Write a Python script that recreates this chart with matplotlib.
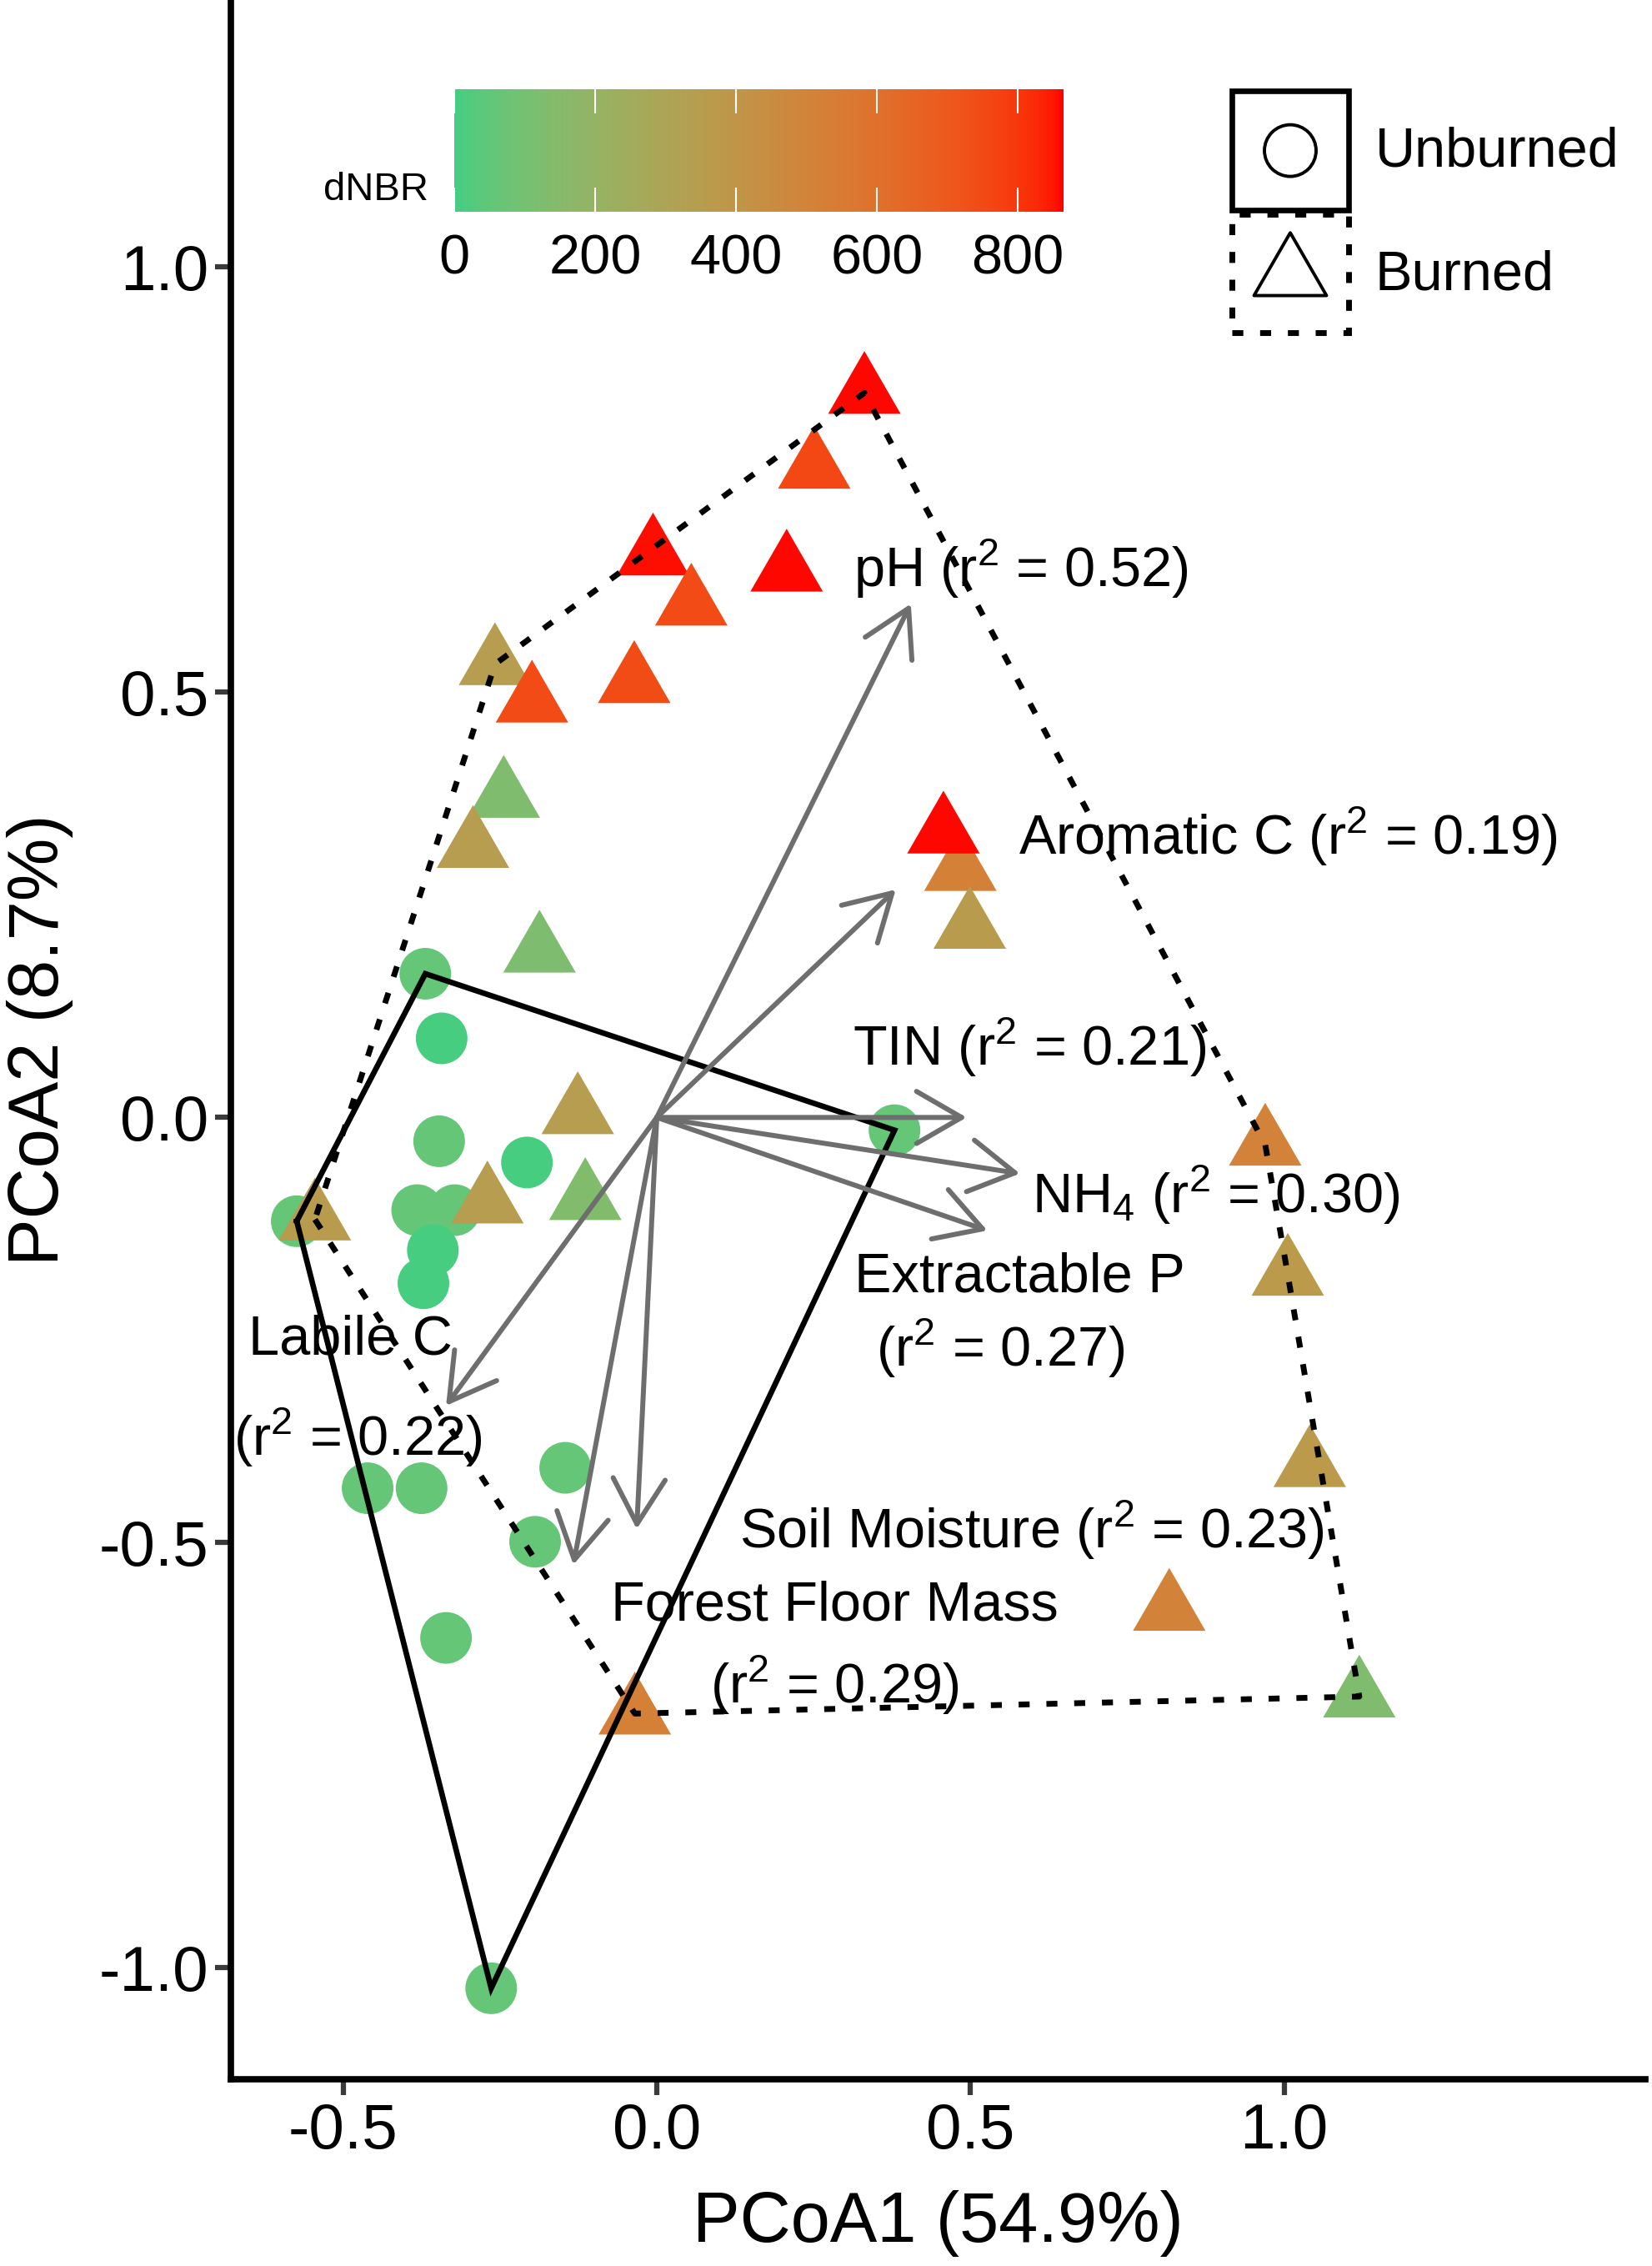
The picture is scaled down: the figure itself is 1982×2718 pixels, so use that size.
import numpy as np
import matplotlib
matplotlib.use("Agg")
import matplotlib.pyplot as plt
from matplotlib.path import Path
from matplotlib.colors import ListedColormap, Normalize
from matplotlib.patches import Rectangle
import matplotlib.cm as cm

plt.rcParams['font.family'] = ['Liberation Sans', 'DejaVu Sans']
plt.rcParams['mathtext.fontset'] = 'custom'
plt.rcParams['mathtext.rm'] = 'Liberation Sans'
plt.rcParams['mathtext.it'] = 'Liberation Sans'
plt.rcParams['mathtext.bf'] = 'Liberation Sans:bold'
plt.rcParams['axes.unicode_minus'] = False

# ---------------- data ----------------
# Unburned plots (circles)
unburned_x = [-0.369, -0.343, -0.347, -0.207, -0.574, -0.382, -0.322, -0.357,
              -0.372, 0.379, -0.461, -0.375, -0.146, -0.194, -0.336, -0.264]
unburned_y = [0.169, 0.093, -0.028, -0.053, -0.122, -0.109, -0.109, -0.156,
              -0.195, -0.015, -0.436, -0.436, -0.412, -0.499, -0.612, -1.024]
unburned_dnbr = [60, 5, 60, 5, 60, 60, 60, 5, 5, 60, 60, 60, 60, 60, 60, 60]

# Burned plots (triangles)
burned_x = [0.331, 0.251, -0.006, 0.207, 0.055, -0.258, -0.199, -0.036,
            -0.244, -0.293, -0.187, 0.484, 0.457, 0.499, -0.126, -0.270,
            -0.114, -0.545, 0.970, 1.006, 1.041, 0.817, 1.120, -0.035]
burned_y = [0.852, 0.764, 0.662, 0.643, 0.603, 0.533, 0.489, 0.512,
            0.377, 0.318, 0.195, 0.291, 0.335, 0.223, 0.005, -0.100,
            -0.096, -0.120, -0.032, -0.185, -0.410, -0.579, -0.681, -0.701]
burned_dnbr = [860, 760, 855, 860, 745, 350, 745, 740,
               130, 350, 125, 520, 860, 360, 345, 350,
               135, 360, 510, 370, 370, 510, 130, 520]

# Environmental vectors
vec_x = [0.405, 0.381, 0.494, 0.579, 0.527, -0.032, -0.133, -0.336]
vec_y = [0.604, 0.268, 0.000, -0.066, -0.133, -0.484, -0.526, -0.339]

# Vector labels
lab_text = [r'pH (r$^{2}$ = 0.52)', r'Aromatic C (r$^{2}$ = 0.19)',
            r'TIN (r$^{2}$ = 0.21)', r'NH$_{4}$ (r$^{2}$ = 0.30)',
            'Extractable P', r'(r$^{2}$ = 0.27)',
            r'Soil Moisture (r$^{2}$ = 0.23)', 'Forest Floor Mass',
            r'(r$^{2}$ = 0.29)', 'Labile C', r'(r$^{2}$ = 0.22)']
lab_x = [0.581, 1.006, 0.594, 0.891, 0.579, 0.548, 0.598, 0.284, 0.283, -0.488, -0.477]
lab_y = [0.645, 0.330, 0.082, -0.091, -0.188, -0.272, -0.485, -0.575, -0.668, -0.262, -0.376]

cbar_ticks = [0, 200, 400, 600, 800]
dnbr_max = 865
x_ticks = [-0.5, 0.0, 0.5, 1.0]
y_ticks = [-1.0, -0.5, 0.0, 0.5, 1.0]
legend_labels = ['Unburned', 'Burned']


# ---------------- colour scale (Lab interpolation, like ggplot) ----------------
def hex2rgb(h):
    h = h.lstrip('#')
    return np.array([int(h[i:i + 2], 16) for i in (0, 2, 4)]) / 255.0


M = np.array([[0.4124564, 0.3575761, 0.1804375],
              [0.2126729, 0.7151522, 0.0721750],
              [0.0193339, 0.1191920, 0.9503041]])
WHITE = np.array([0.95047, 1.0, 1.08883])


def rgb2lab(c):
    lin = np.where(c <= 0.04045, c / 12.92, ((c + 0.055) / 1.055) ** 2.4)
    xyz = M @ lin / WHITE
    f = np.where(xyz > 0.008856, np.cbrt(xyz), 7.787 * xyz + 16 / 116)
    return np.array([116 * f[1] - 16, 500 * (f[0] - f[1]), 200 * (f[1] - f[2])])


def lab2rgb(lab):
    L, a, b = lab
    fy = (L + 16) / 116
    fx = fy + a / 500
    fz = fy - b / 200
    f = np.array([fx, fy, fz])
    xyz = np.where(f ** 3 > 0.008856, f ** 3, (f - 16 / 116) / 7.787) * WHITE
    lin = np.linalg.solve(M, xyz)
    lin = np.clip(lin, 0, 1)
    c = np.where(lin <= 0.0031308, 12.92 * lin, 1.055 * lin ** (1 / 2.4) - 0.055)
    return np.clip(c, 0, 1)


lab_lo = rgb2lab(hex2rgb('#43CD80'))
lab_hi = rgb2lab(hex2rgb('#FF0000'))
cols = [lab2rgb(lab_lo + (lab_hi - lab_lo) * t) for t in np.linspace(0, 1, 256)]
cmap = ListedColormap(cols)
norm = Normalize(vmin=0, vmax=dnbr_max)

# ---------------- figure ----------------
W, H = 1983, 2718
fig = plt.figure(figsize=(W / 100, H / 100), dpi=100)
ax = fig.add_axes([277 / W, 1 - 2494 / H, (1974 - 277) / W, 2494 / H])
ax.set_xlim(-0.679, 1.576)
ax.set_ylim(-1.131, 1.314)
for s in ['top', 'right']:
    ax.spines[s].set_visible(False)
for s in ['left', 'bottom']:
    ax.spines[s].set_linewidth(5.5)
ax.set_xticks(x_ticks)
ax.set_yticks(y_ticks)
ax.set_xticklabels([f'{v:.1f}' for v in x_ticks])
ax.set_yticklabels([f'{v:.1f}' for v in y_ticks])
ax.tick_params(axis='both', length=14, width=4.5, labelsize=55, color='#3a3a3a')
ax.tick_params(axis='x', pad=6)
ax.tick_params(axis='y', pad=5)
ax.set_xlabel('PCoA1 (54.9%)', fontsize=61)
ax.set_ylabel('PCoA2 (8.7%)', fontsize=61)
ax.xaxis.set_label_coords(0.5, -0.0694)
ax.xaxis.label.set_va('center')
ax.yaxis.set_label_coords(-0.1347, 0.5)
ax.yaxis.label.set_va('center')

# triangle marker (R pch 17 proportions, centred on centroid)
tri = Path([(0, 1.555), (1.347, -0.778), (-1.347, -0.778), (0, 1.555)],
           [Path.MOVETO, Path.LINETO, Path.LINETO, Path.CLOSEPOLY])

ax.scatter(unburned_x, unburned_y, c=unburned_dnbr, cmap=cmap, norm=norm,
           s=1990, marker='o', linewidths=0, zorder=2)
ax.scatter(burned_x, burned_y, c=burned_dnbr, cmap=cmap, norm=norm,
           s=5230, marker=tri, linewidths=0, zorder=2)


def convex_hull(xs, ys):
    pts = sorted(set(zip(xs, ys)))

    def cross(o, a, b):
        return (a[0] - o[0]) * (b[1] - o[1]) - (a[1] - o[1]) * (b[0] - o[0])
    lower, upper = [], []
    for p in pts:
        while len(lower) >= 2 and cross(lower[-2], lower[-1], p) <= 0:
            lower.pop()
        lower.append(p)
    for p in reversed(pts):
        while len(upper) >= 2 and cross(upper[-2], upper[-1], p) <= 0:
            upper.pop()
        upper.append(p)
    hull = lower[:-1] + upper[:-1]
    hull.append(hull[0])
    return np.array(hull)


hu = convex_hull(unburned_x, unburned_y)
hb = convex_hull(burned_x, burned_y)
ax.plot(hu[:, 0], hu[:, 1], color='black', lw=4.8, solid_joinstyle='miter', zorder=3)
ax.plot(hb[:, 0], hb[:, 1], color='black', lw=5.0, dashes=(1.9, 2.9),
        dash_capstyle='butt', zorder=3)

grey = '#6E6E6E'
for vx, vy in zip(vec_x, vec_y):
    ax.annotate('', xy=(vx, vy), xytext=(0, 0),
                arrowprops=dict(arrowstyle='->,head_length=3.9,head_width=2.25',
                                lw=4.3, color=grey, shrinkA=0, shrinkB=0,
                                mutation_scale=10), zorder=4)

for t, x, y in zip(lab_text, lab_x, lab_y):
    ax.text(x, y, t, fontsize=48, ha='center', va='center', zorder=5)

# ---------------- colour bar ----------------
cax = fig.add_axes([545 / W, 1 - 254 / H, 731 / W, 147 / H])
sm = cm.ScalarMappable(norm=norm, cmap=cmap)
cb = fig.colorbar(sm, cax=cax, orientation='horizontal')
cb.outline.set_visible(False)
cb.set_ticks(cbar_ticks)
cax.tick_params(axis='x', direction='in', color='white', length=21, width=1.5,
                top=True, bottom=True, labelsize=48, pad=19, labelcolor='black')
cax.text(-0.042, 0.18, 'dNBR', transform=cax.transAxes, ha='right', va='center',
         fontsize=34)

# ---------------- shape legend ----------------
lax = fig.add_axes([1478 / W, 1 - 399 / H, 140 / W, 290 / H])
lax.set_xlim(0, 1)
lax.set_ylim(0, 1)
lax.axis('off')
lax.add_patch(Rectangle((0, 0.507), 1, 0.493, facecolor='white', edgecolor='black',
                        lw=4.8, clip_on=False))
lax.add_patch(Rectangle((0, 0.0), 1, 0.49, facecolor='white', edgecolor='black',
                        lw=5.0, linestyle=(0, (1.9, 2.9)), clip_on=False))
lax.scatter([0.5], [0.753], s=1990, marker='o', facecolors='none',
            edgecolors='black', linewidths=2.8, clip_on=False)
lax.scatter([0.5], [0.24], s=5230, marker=tri, facecolors='none',
            edgecolors='black', linewidths=2.8, clip_on=False)
fig.text(1650 / W, 1 - 183 / H, legend_labels[0], fontsize=48, ha='left', va='center')
fig.text(1650 / W, 1 - 331 / H, legend_labels[1], fontsize=48, ha='left', va='center')

fig.savefig('out.png', dpi=100)
